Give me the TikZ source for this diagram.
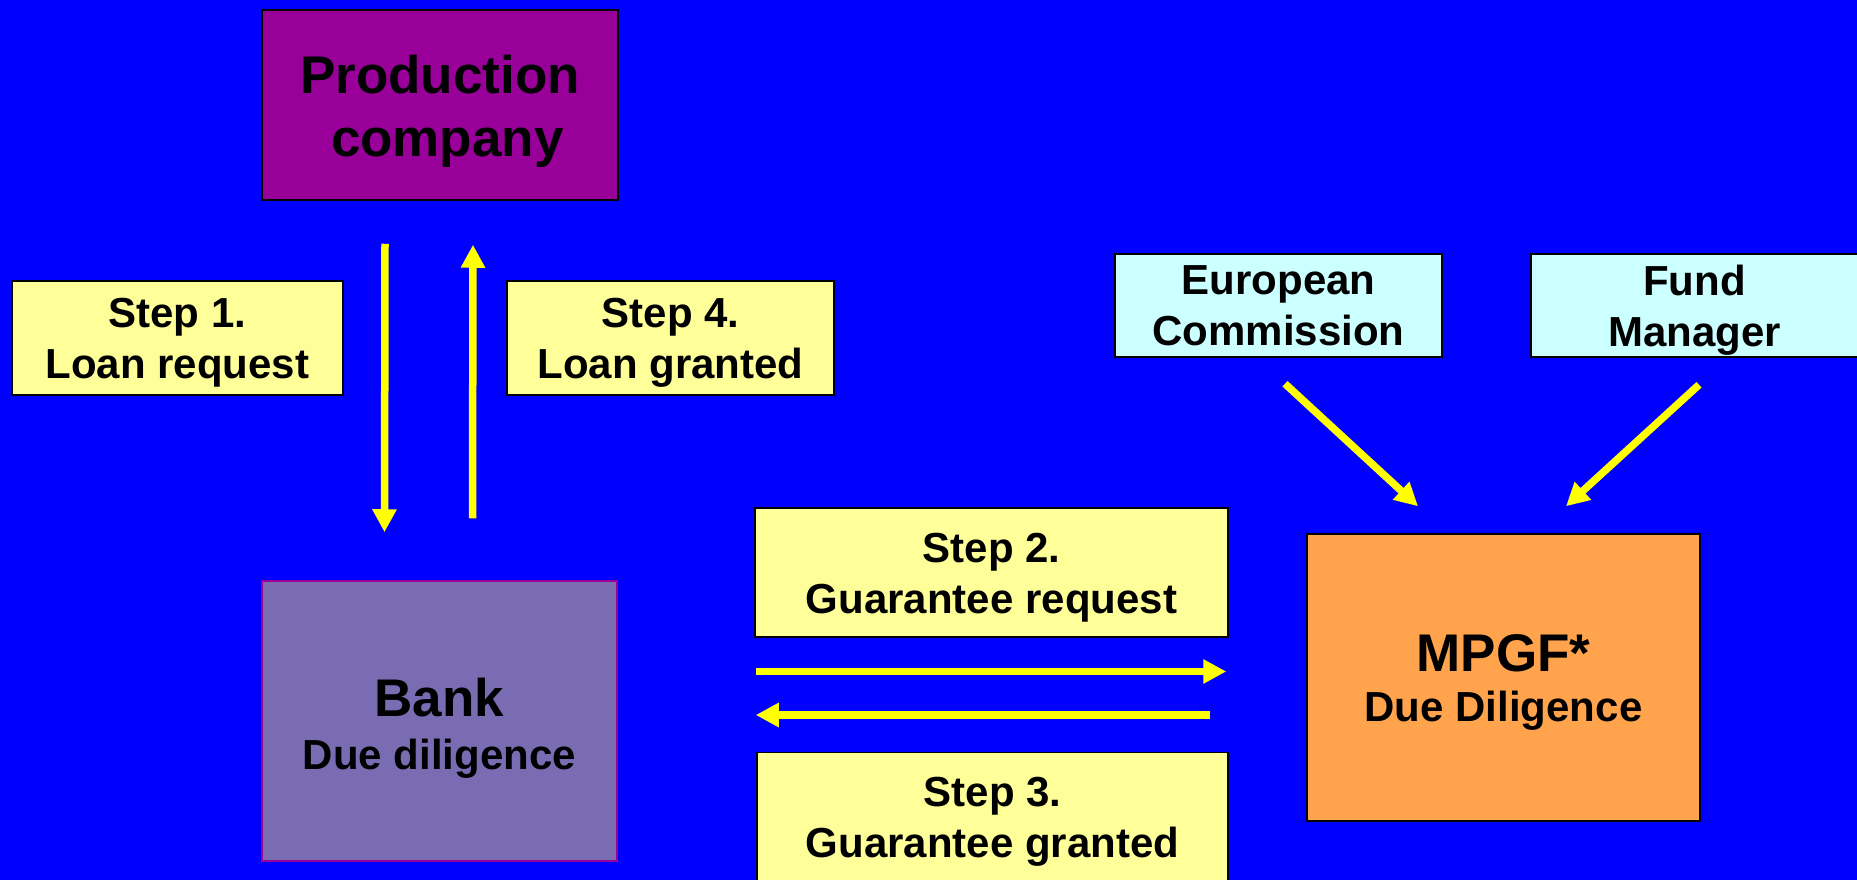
\documentclass[tikz,border=0pt]{standalone}
\usepackage{fontspec}
\setmainfont{Liberation Sans}
\usetikzlibrary{arrows.meta}
\definecolor{bgblue}{RGB}{0,0,255}
\definecolor{prodpurple}{RGB}{153,0,153}
\definecolor{bankviolet}{RGB}{122,108,178}
\definecolor{mpgforange}{RGB}{255,163,77}
\definecolor{steppale}{RGB}{255,255,153}
\definecolor{partycyan}{RGB}{204,255,255}
\definecolor{arrowyellow}{RGB}{255,255,0}
\newcommand{\padtop}[1]{\rule{0pt}{#1}}

\begin{document}
\begin{tikzpicture}[x=1pt, y=-1pt,
	box/.style={draw, rectangle, inner sep=0pt, align=center, line width=1.5pt, font=\fontsize{42}{51}\selectfont\bfseries},
	stepbox/.style={box, fill=steppale, minimum height=114pt},
	partybox/.style={box, fill=partycyan, minimum width=327pt, minimum height=103pt},
	bigline/.style={font=\fontsize{53}{63}\selectfont\bfseries},
	flow/.style={draw=arrowyellow, line width=7.5pt, -{Triangle[length=23pt,width=23pt]}}]
	\fill[bgblue] (0,0) rectangle (1857,880);
	\useasboundingbox (0,0) rectangle (1857,880);

	\node[box, bigline, fill=prodpurple, minimum width=356pt, minimum height=190pt] (prod) at (440,105) {\padtop{51pt}Production\\\ company};
	\node[stepbox, minimum width=331pt] (step1) at (177.5,338) {\padtop{39pt}Step 1.\\Loan request};
	\node[stepbox, minimum width=327pt] (step4) at (670.5,338) {\padtop{39pt}Step 4.\\Loan granted};
	\node[box, draw=prodpurple, fill=bankviolet, minimum width=355pt, minimum height=280pt] (bank) at (439.5,721) {{\fontsize{53}{63}\selectfont\padtop{53pt}Bank}\\[1.5pt]Due diligence};
	\node[stepbox, minimum width=473pt, minimum height=129pt] (step2) at (991.5,572.5) {\padtop{39pt}Step 2.\\Guarantee request};
	\node[stepbox, minimum width=471pt, minimum height=129pt] (step3) at (992.5,817) {\padtop{39pt}Step 3.\\Guarantee granted};
	\node[box, fill=mpgforange, minimum width=393pt, minimum height=287pt] (mpgf) at (1503.5,677.5) {{\fontsize{53}{63}\selectfont\padtop{47pt}MPGF*}\\[-1pt]Due Diligence};
	\node[partybox] (ec) at (1278.5,305.5) {European\\Commission};
	\node[partybox] (fm) at (1694.5,305.5) {\padtop{39pt}Fund\\Manager};

	\draw[flow] ([xshift=-55pt,yshift=-43pt]prod.south) -- ([xshift=-55pt,yshift=48pt]bank.north);
	\draw[flow] ([xshift=33pt,yshift=62pt]bank.north) -- ([xshift=33pt,yshift=-44pt]prod.south);
	\draw[flow] ([xshift=138pt,yshift=49.5pt]bank.east) -- ([xshift=-80pt,yshift=6pt]mpgf.west);
	\draw[flow] ([xshift=-96pt,yshift=-37.5pt]mpgf.west) -- ([xshift=138pt,yshift=6pt]bank.east);
	\draw[flow] ([xshift=6.5pt,yshift=-26pt]ec.south) -- ([xshift=-85.5pt,yshift=27pt]mpgf.north);
	\draw[flow] ([xshift=4.5pt,yshift=-27pt]fm.south) -- ([xshift=62.5pt,yshift=27pt]mpgf.north);
\end{tikzpicture}
\end{document}
